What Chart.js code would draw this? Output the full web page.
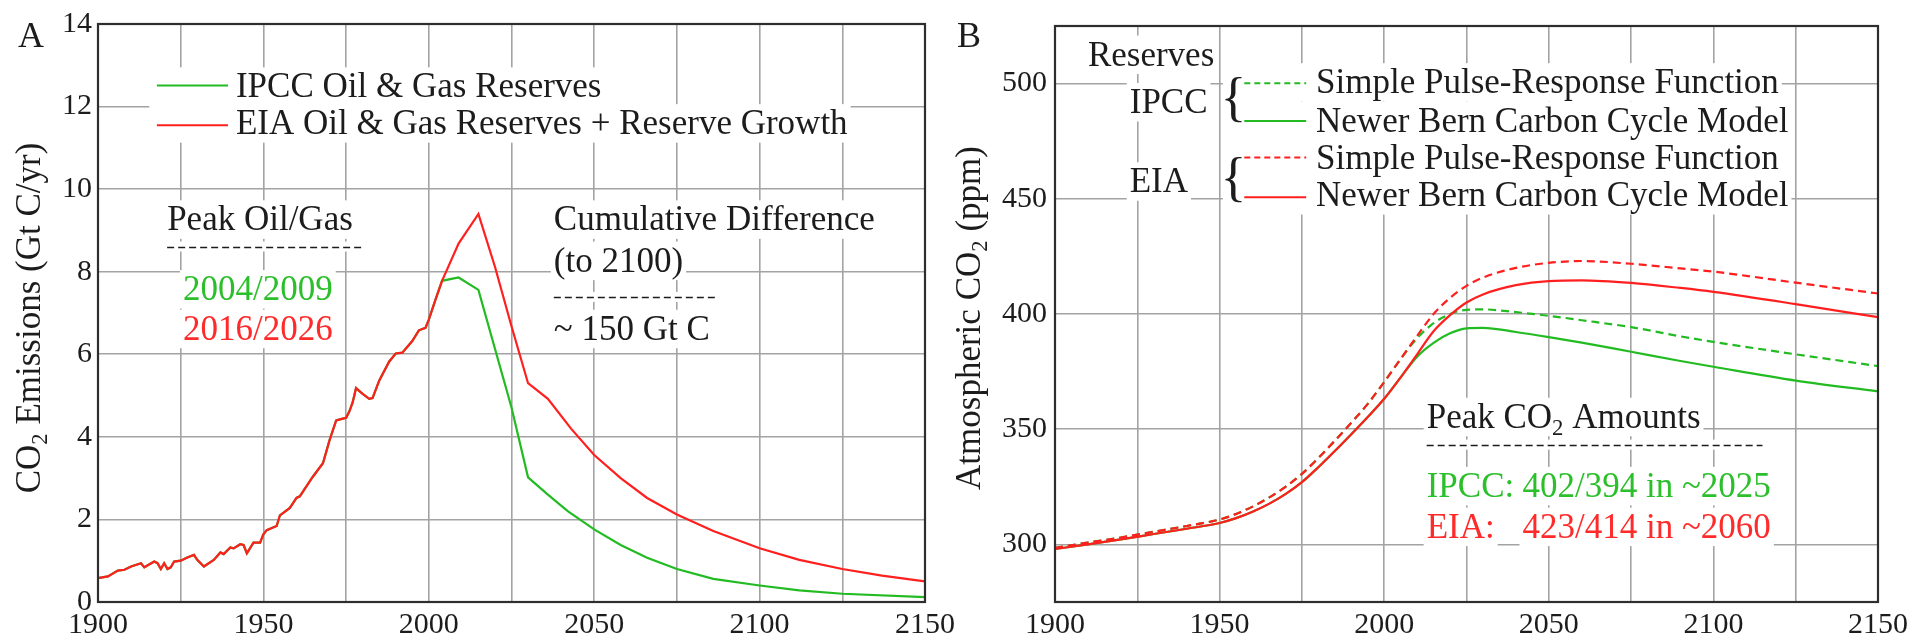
<!DOCTYPE html>
<html><head><meta charset="utf-8">
<script src="https://cdn.jsdelivr.net/npm/chart.js@4"></script>
<style>
html,body{margin:0;padding:0;background:#fff;overflow:hidden;width:1913px;height:638px}
#cA{position:absolute;left:0;top:0}
#cB{position:absolute;left:945px;top:0}
</style></head><body>
<canvas id="cA" width="1000" height="638"></canvas>
<canvas id="cB" width="968" height="638"></canvas>
<script>
// ---------- Panel A data: CO2 emissions (Gt C/yr) ----------
const histYears = [1900,1903,1906,1908,1910,1913,1914,1917,1918,1919,1920,1921,1922,1923,1925,1927,1929,1930,1932,1935,1937,1938,1940,1941,1943,1944,1945,1947,1949,1950,1951,1954,1955,1958,1960,1961,1963,1965,1968,1970,1972,1974,1975,1976,1977,1978,1980,1982,1983,1985,1988,1990,1992,1995,1997,1999,2000,2002];
const histEmissions = [0.58,0.62,0.76,0.78,0.86,0.94,0.84,0.98,0.94,0.80,0.94,0.80,0.84,0.98,1.00,1.08,1.14,1.02,0.86,1.02,1.20,1.16,1.32,1.30,1.40,1.38,1.18,1.44,1.44,1.64,1.74,1.84,2.10,2.28,2.52,2.56,2.80,3.04,3.36,3.92,4.40,4.44,4.46,4.62,4.84,5.18,5.04,4.92,4.94,5.36,5.82,6.02,6.04,6.32,6.58,6.64,6.84,7.32];
const ipccYears = [2004,2009,2015,2025,2030,2036,2042,2050,2058,2066,2075,2086,2100,2112,2125,2150];
const ipccEmissions = [7.78,7.86,7.56,4.71,3.02,2.60,2.20,1.76,1.38,1.07,0.80,0.56,0.40,0.28,0.20,0.12];
const eiaYears = [2004,2009,2015,2020,2025,2030,2036,2043,2050,2058,2066,2075,2086,2100,2112,2125,2137,2150];
const eiaEmissions = [7.78,8.68,9.40,8.12,6.68,5.30,4.92,4.20,3.56,3.00,2.52,2.12,1.72,1.30,1.02,0.80,0.64,0.50];

// ---------- Panel B data: atmospheric CO2 (ppm) ----------
const ppmYears = [1900,1910,1920,1930,1940,1950,1955,1960,1965,1970,1975,1980,1985,1990,1995,2000,2005,2010,2015,2020,2025,2030,2040,2050,2060,2075,2090,2100,2125,2150];
const eiaBern  = [298.0,300.0,302.2,304.5,306.8,309.3,311.4,314.2,317.6,321.8,327.0,333.5,340.5,347.8,355.3,363.2,372.5,382.5,392.5,399.5,405.0,408.5,412.5,414.3,414.6,413.5,411.3,409.6,404.3,398.6];
const eiaPulse = [298.5,300.8,303.0,305.5,308.0,310.8,313.2,316.4,320.3,325.0,330.6,337.5,345.0,352.8,361.0,370.5,380.5,390.5,400.0,407.0,412.2,415.8,420.0,422.2,423.0,421.8,419.8,418.4,413.6,408.9];
const ipccBern = [298.0,300.0,302.2,304.5,306.8,309.3,311.4,314.2,317.6,321.8,327.0,333.5,340.5,347.8,355.3,363.2,372.5,381.5,387.5,391.6,393.8,394.0,392.2,390.0,387.6,383.6,379.6,377.1,371.1,366.4];
const ipccPulse= [298.5,300.8,303.0,305.5,308.0,310.8,313.2,316.4,320.3,325.0,330.6,337.5,345.0,352.8,361.0,370.5,380.5,389.5,396.0,400.0,401.8,402.0,400.8,399.2,397.3,394.3,390.3,387.9,382.5,377.4];

// ---------- Tick values ----------
const xTickValues = [1900,1925,1950,1975,2000,2025,2050,2075,2100,2125,2150];
const yTicksA = [0,2,4,6,8,10,12,14];
const yTicksB = [300,350,400,450,500];

const FONT = "'Liberation Serif','Times New Roman',serif";
const GREEN = '#22bb22', RED = '#ff1f1f', GREEN_T = '#2cbf2c', RED_T = '#ff2a2a';
const INK = '#1c1c1c', GRID = '#a3a3a3', TSIZE = 35;

function pts(xs, ys){ return xs.map((x,i)=>({x:x, y:ys[i]})); }

function drawParts(ctx, parts, x, y, size, color){
  let cx = x;
  parts.forEach(p=>{
    const s = p.sub ? size*0.65 : size;
    ctx.font = s+'px '+FONT;
    ctx.fillStyle = color;
    ctx.fillText(p.t, cx, y + (p.sub ? size*0.2 : 0));
    cx += ctx.measureText(p.t).width;
  });
  return cx - x;
}
function partsWidth(ctx, parts, size){
  let w = 0;
  parts.forEach(p=>{ ctx.font = (p.sub?size*0.65:size)+'px '+FONT; w += ctx.measureText(p.t).width; });
  return w;
}

function makePanelPlugin(spec){
  return {
    id: 'panel'+spec.letter,
    beforeDatasetsDraw(chart){
      const ctx = chart.ctx, xs = chart.scales.x, ys = chart.scales.y;
      ctx.save();
      ctx.textBaseline = 'alphabetic'; ctx.textAlign = 'left';
      // white boxes behind texts (they interrupt the grid)
      ctx.fillStyle = '#fff';
      spec.texts.forEach(it=>{
        const parts = it.parts || [{t:it.t}];
        const x = xs.getPixelForValue(it.x), y = ys.getPixelForValue(it.y);
        const w = partsWidth(ctx, parts, TSIZE);
        const bx = it.bx !== undefined ? xs.getPixelForValue(it.bx) : x - 3;
        ctx.fillRect(bx, y - TSIZE*0.86, x + w + 3 - bx, TSIZE*1.1);
      });
      spec.rules.forEach(r=>{
        const x1 = xs.getPixelForValue(r.x1), x2 = xs.getPixelForValue(r.x2), y = ys.getPixelForValue(r.y);
        ctx.fillRect(x1-2, y-5, x2-x1+4, 10);
      });
      // texts
      spec.texts.forEach(it=>{
        const parts = it.parts || [{t:it.t}];
        drawParts(ctx, parts, xs.getPixelForValue(it.x), ys.getPixelForValue(it.y), TSIZE, it.c || INK);
      });
      // dashed separators
      ctx.strokeStyle = INK; ctx.lineWidth = 1.6; ctx.setLineDash([7,4]);
      spec.rules.forEach(r=>{
        const y = Math.round(ys.getPixelForValue(r.y))+0.5;
        ctx.beginPath(); ctx.moveTo(xs.getPixelForValue(r.x1), y); ctx.lineTo(xs.getPixelForValue(r.x2), y); ctx.stroke();
      });
      // legend samples
      spec.samples.forEach(s=>{
        ctx.strokeStyle = s.c; ctx.lineWidth = 2; ctx.setLineDash(s.dash || []);
        const y = ys.getPixelForValue(s.y);
        ctx.beginPath(); ctx.moveTo(xs.getPixelForValue(s.x1), y); ctx.lineTo(xs.getPixelForValue(s.x2), y); ctx.stroke();
      });
      ctx.setLineDash([]);
      // braces
      (spec.braces||[]).forEach(b=>{
        ctx.font = '54px '+FONT; ctx.fillStyle = INK; ctx.textBaseline = 'middle';
        ctx.fillText('{', xs.getPixelForValue(b.x), ys.getPixelForValue(b.y)+2);
      });
      ctx.restore();
    },
    afterDraw(chart){
      const ctx = chart.ctx, a = chart.chartArea;
      ctx.save();
      ctx.strokeStyle = '#2e2e2e'; ctx.lineWidth = 2.2; ctx.setLineDash([]);
      ctx.strokeRect(a.left, a.top, a.right - a.left, a.bottom - a.top);
      // panel letter
      ctx.font = '36px '+FONT; ctx.fillStyle = INK; ctx.textBaseline = 'alphabetic'; ctx.textAlign = 'left';
      ctx.fillText(spec.letter, a.left + spec.letterDx, 47);
      // y-axis title (rotated, with subscript)
      const w = partsWidth(ctx, spec.yTitle, TSIZE);
      ctx.translate(a.left + spec.titleDx, 318);
      ctx.rotate(-Math.PI/2);
      drawParts(ctx, spec.yTitle, -w/2, 12, TSIZE, INK);
      ctx.restore();
    }
  };
}

function makeOptions(yMin, yMax, yTicks, yWidth, pad, tickPadY){
  return {
    responsive:false, animation:false, devicePixelRatio:1,
    layout:{padding:pad},
    plugins:{legend:{display:false}, tooltip:{enabled:false}},
    elements:{point:{radius:0}, line:{borderWidth:2.2, tension:0}},
    scales:{
      x:{type:'linear', min:1900, max:2150,
         afterBuildTicks:s=>{ s.ticks = xTickValues.map(v=>({value:v})); },
         afterFit:s=>{ s.height = 36; },
         grid:{color:GRID, lineWidth:1.6, drawTicks:false},
         border:{display:false},
         ticks:{autoSkip:false, maxRotation:0, minRotation:0, padding:5, color:INK,
                font:{family:FONT, size:30}, callback:v=> (v % 50 === 0 ? String(v) : '')}},
      y:{type:'linear', min:yMin, max:yMax,
         afterBuildTicks:s=>{ s.ticks = yTicks.map(v=>({value:v})); },
         afterFit:s=>{ s.width = yWidth; },
         grid:{color:GRID, lineWidth:1.6, drawTicks:false},
         border:{display:false},
         ticks:{padding:tickPadY, color:INK, font:{family:FONT, size:30}}}
    }
  };
}

// ---------- Panel A ----------
const specA = {
  letter:'A', letterDx:-80, titleDx:-70,
  yTitle:[{t:'CO'},{t:'2',sub:true},{t:' Emissions (Gt C/yr)'}],
  texts:[
    {t:'IPCC Oil & Gas Reserves', x:1941.7, y:12.22, bx:1915.5},
    {t:'EIA Oil & Gas Reserves + Reserve Growth', x:1941.7, y:11.33, bx:1915.5},
    {t:'Peak Oil/Gas', x:1920.9, y:9.0},
    {t:'2004/2009', x:1925.7, y:7.31, c:GREEN_T},
    {t:'2016/2026', x:1925.7, y:6.35, c:RED_T},
    {t:'Cumulative Difference', x:2037.8, y:9.0},
    {t:'(to 2100)', x:2037.8, y:8.0},
    {t:'~ 150 Gt C', x:2037.8, y:6.35}
  ],
  samples:[
    {x1:1917.8, x2:1939.3, y:12.51, c:GREEN},
    {x1:1917.8, x2:1939.3, y:11.55, c:RED}
  ],
  rules:[
    {x1:1920.9, x2:1980.4, y:8.61},
    {x1:2037.8, x2:2087.1, y:7.39}
  ]
};
new Chart(document.getElementById('cA'), {
  type:'line',
  data:{datasets:[
    {label:'EIA Oil & Gas Reserves + Reserve Growth', data:pts(histYears.concat(eiaYears), histEmissions.concat(eiaEmissions)), borderColor:RED},
    {label:'IPCC Oil & Gas Reserves', data:pts(histYears.concat(ipccYears), histEmissions.concat(ipccEmissions)), borderColor:GREEN}
  ]},
  options:makeOptions(0, 14, yTicksA, 98, {left:0, top:20, right:75, bottom:0}, 6),
  plugins:[makePanelPlugin(specA)]
});

// ---------- Panel B ----------
const specB = {
  letter:'B', letterDx:-98, titleDx:-87,
  yTitle:[{t:'Atmospheric CO'},{t:'2',sub:true},{t:' (ppm)'}],
  texts:[
    {t:'Reserves', x:1910.0, y:507.8},
    {t:'IPCC', x:1922.7, y:487.2},
    {t:'EIA', x:1922.7, y:452.8},
    {t:'Simple Pulse-Response Function', x:1979.3, y:495.8, bx:1951},
    {t:'Newer Bern Carbon Cycle Model', x:1979.3, y:479.0, bx:1951},
    {t:'Simple Pulse-Response Function', x:1979.3, y:463.1, bx:1951},
    {t:'Newer Bern Carbon Cycle Model', x:1979.3, y:446.8, bx:1951},
    {parts:[{t:'Peak CO'},{t:'2',sub:true},{t:' Amounts'}], x:2012.9, y:350.6},
    {t:'IPCC:', x:2012.9, y:320.6, c:GREEN_T},
    {t:'402/394 in ~2025', x:2042.0, y:320.6, c:GREEN_T},
    {t:'EIA:', x:2012.9, y:302.9, c:RED_T},
    {t:'423/414 in ~2060', x:2042.0, y:302.9, c:RED_T}
  ],
  samples:[
    {x1:1957.5, x2:1976.3, y:500.1, c:GREEN, dash:[6,4]},
    {x1:1957.5, x2:1976.3, y:483.8, c:GREEN},
    {x1:1957.5, x2:1976.3, y:467.9, c:RED, dash:[6,4]},
    {x1:1957.5, x2:1976.3, y:450.7, c:RED}
  ],
  rules:[{x1:2012.9, x2:2114.9, y:343.3}],
  braces:[{x:1950.3, y:493.2},{x:1950.3, y:458.8}]
};
new Chart(document.getElementById('cB'), {
  type:'line',
  data:{datasets:[
    {label:'EIA Bern', data:pts(ppmYears, eiaBern), borderColor:RED, cubicInterpolationMode:'monotone'},
    {label:'EIA Pulse', data:pts(ppmYears, eiaPulse), borderColor:RED, borderDash:[8,5], cubicInterpolationMode:'monotone'},
    {label:'IPCC Pulse', data:pts(ppmYears, ipccPulse), borderColor:GREEN, borderDash:[8,5], cubicInterpolationMode:'monotone'},
    {label:'IPCC Bern', data:pts(ppmYears, ipccBern), borderColor:GREEN, cubicInterpolationMode:'monotone'}
  ]},
  options:makeOptions(275, 525, yTicksB, 110, {left:0, top:20, right:32, bottom:0}, 8),
  plugins:[makePanelPlugin(specB)]
});
</script>
</body></html>
